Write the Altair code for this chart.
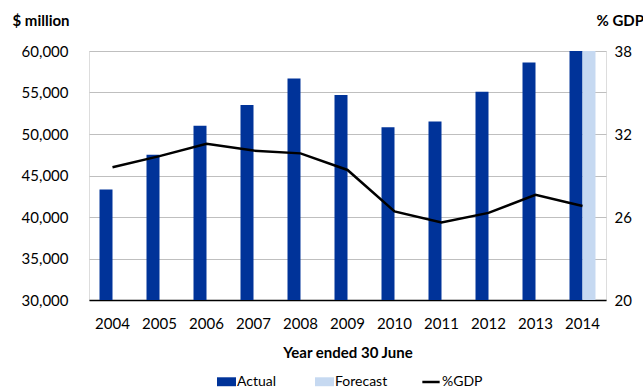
import altair as alt
import pandas as pd

# Government spending, $ million, and as a share of GDP
years = ["2004", "2005", "2006", "2007", "2008", "2009", "2010", "2011", "2012", "2013", "2014"]
actual = [43300, 47500, 51000, 53500, 56700, 54700, 50800, 51500, 55100, 58600, 60000]
forecast_year = "2014"
forecast_value = 60000
gdp_share = [29.6, 30.4, 31.3, 30.8, 30.6, 29.4, 26.4, 25.6, 26.3, 27.6, 26.8]

series_names = ["Actual", "Forecast"]
series_colors = ["#003399", "#C6D9F1"]

FONT = "Lato"

bars_df = pd.DataFrame(
    {"year": years + [forecast_year],
     "value": actual + [forecast_value],
     "series": ["Actual"] * len(years) + ["Forecast"]}
)
line_df = pd.DataFrame({"year": years, "pct": gdp_share, "label": ["%GDP"] * len(years)})

x_enc = alt.X(
    "year:N",
    sort=years,
    scale=alt.Scale(paddingInner=0.447, paddingOuter=0.2235),
    axis=alt.Axis(
        title="Year ended 30 June",
        titleFont=FONT, titleFontSize=15, titleFontWeight="bold", titleColor="#000000",
        titlePadding=14,
        labelFont=FONT, labelFontSize=15, labelColor="#000000", labelPadding=16,
        labelAngle=0,
        domainColor="#000000", domainWidth=1.5,
        ticks=False, grid=False,
    ),
)

bars = alt.Chart(bars_df).mark_bar(clip=True).encode(
    x=x_enc,
    xOffset=alt.XOffset("series:N", scale=alt.Scale(domain=series_names, paddingInner=0, paddingOuter=0)),
    y=alt.Y(
        "value:Q",
        scale=alt.Scale(domain=[30000, 60000], nice=False, zero=False),
        axis=alt.Axis(
            values=[30000, 35000, 40000, 45000, 50000, 55000, 60000],
            format=",.0f",
            title="$ million",
            titleAngle=0, titleAlign="left", titleBaseline="alphabetic",
            titleX=-77, titleY=-26,
            titleFont=FONT, titleFontSize=15, titleFontWeight="bold", titleColor="#000000",
            labelFont=FONT, labelFontSize=15, labelColor="#000000", labelPadding=21,
            domain=False, ticks=False,
            grid=True, gridColor="#BFBFBF", gridWidth=1,
        ),
    ),
    color=alt.Color(
        "series:N",
        scale=alt.Scale(domain=series_names, range=series_colors),
        legend=alt.Legend(
            title=None, orient="none", legendX=128, legendY=321,
            direction="horizontal", columns=2, columnPadding=38,
            symbolType="M-1,-0.47H1V0.47H-1Z", symbolSize=361,
            symbolStrokeWidth=0, symbolOpacity=1,
            labelFont=FONT, labelFontSize=14, labelColor="#000000", labelOffset=1,
        ),
    ),
)

line = alt.Chart(line_df).mark_line(strokeWidth=2.5).encode(
    x=alt.X("year:N", sort=years),
    y=alt.Y(
        "pct:Q",
        scale=alt.Scale(domain=[20, 38], nice=False, zero=False),
        axis=alt.Axis(
            orient="right",
            values=[20, 26, 32, 38],
            title="% GDP",
            titleAngle=0, titleAlign="left", titleBaseline="alphabetic",
            titleX=-10, titleY=-26,
            titleFont=FONT, titleFontSize=15, titleFontWeight="bold", titleColor="#000000",
            labelFont=FONT, labelFontSize=15, labelColor="#000000", labelPadding=8,
            domain=False, ticks=False, grid=False,
        ),
    ),
    stroke=alt.Stroke(
        "label:N",
        scale=alt.Scale(domain=["%GDP"], range=["#000000"]),
        legend=alt.Legend(
            title=None, orient="none", legendX=332, legendY=321,
            symbolType="stroke", symbolStrokeWidth=2.5, symbolSize=300,
            labelFont=FONT, labelFontSize=14, labelColor="#000000", labelOffset=1,
        ),
    ),
)

chart = (
    alt.layer(bars, line)
    .resolve_scale(y="independent")
    .properties(width=517, height=249, padding={"left": 89, "top": 51, "right": 37, "bottom": 89})
    .configure_view(stroke=None)
    .configure(background="#FFFFFF", autosize=alt.AutoSizeParams(type="none"))
)

chart.save("out.html", embed_options={"renderer": "svg", "actions": False})
